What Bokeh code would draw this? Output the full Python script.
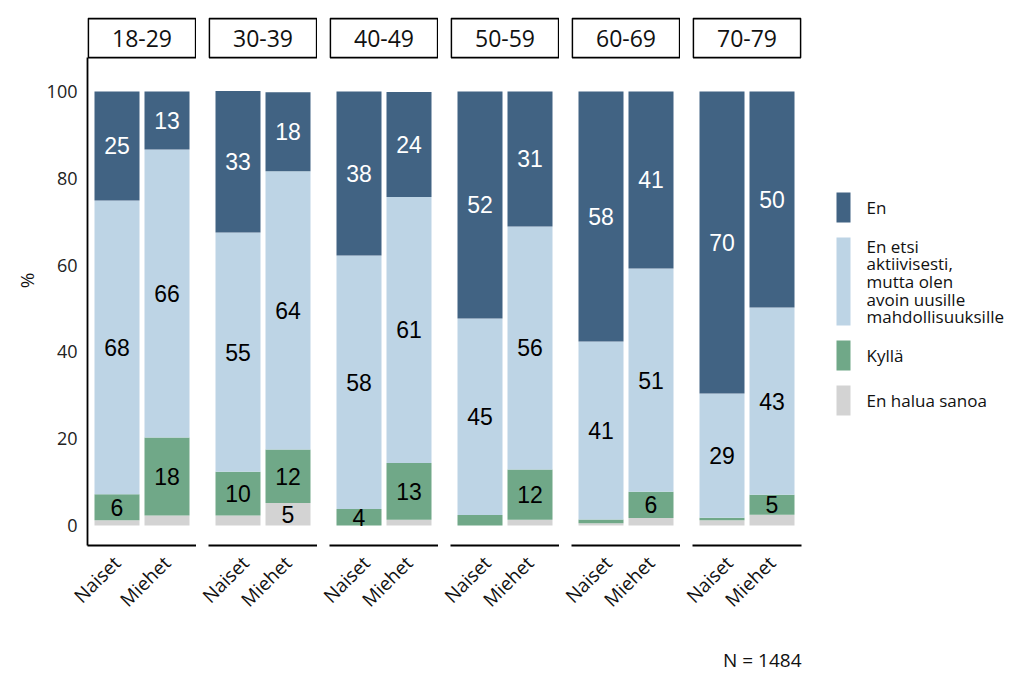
import math
from bokeh.plotting import figure
from bokeh.models import (Range1d, FactorRange, BoxAnnotation, Label, Title,
                          ColumnDataSource, FixedTicker)
from bokeh.layouts import row
from bokeh.embed import file_html
from bokeh.resources import INLINE
from bokeh.core.properties import value

# ---------------- data ----------------
ages = ["18-29", "30-39", "40-49", "50-59", "60-69", "70-79"]
genders = ["Naiset", "Miehet"]

# stack order bottom -> top
categories = ["En halua sanoa", "Kyllä",
              "En etsi aktiivisesti, mutta olen avoin uusille mahdollisuuksille",
              "En"]
legend_lines = {
    "En": ["En"],
    "En etsi aktiivisesti, mutta olen avoin uusille mahdollisuuksille":
        ["En etsi", "aktiivisesti,", "mutta olen", "avoin uusille", "mahdollisuuksille"],
    "Kyllä": ["Kyllä"],
    "En halua sanoa": ["En halua sanoa"],
}
colors = ["#d3d3d3", "#70a888", "#bdd4e5", "#416383"]
label_colors = ["black", "black", "black", "white"]

en_halua_naiset = [1.2, 2.3, 0.0, 0.0, 0.5, 1.2]
en_halua_miehet = [2.3, 5.2, 1.3, 1.3, 1.7, 2.5]
kylla_naiset = [6.0, 10.1, 3.8, 2.4, 0.9, 0.6]
kylla_miehet = [18.0, 12.3, 13.1, 11.6, 6.1, 4.6]
en_etsi_naiset = [67.7, 55.1, 58.4, 45.3, 41.0, 28.6]
en_etsi_miehet = [66.3, 64.1, 61.3, 56.0, 51.4, 43.1]
en_naiset = [25.1, 32.6, 37.8, 52.3, 57.6, 69.6]
en_miehet = [13.4, 18.2, 24.2, 31.1, 40.8, 49.8]

caption = "N = 1484"
y_ticks = [0, 20, 40, 60, 80, 100]

series_naiset = [en_halua_naiset, kylla_naiset, en_etsi_naiset, en_naiset]
series_miehet = [en_halua_miehet, kylla_miehet, en_etsi_miehet, en_miehet]

# ---------------- style ----------------
TXT_FONT = "Open Sans"
NUM_FONT = "Liberation Sans"
Y_START, Y_END = -4.61, 117.5
STRIP_BOTTOM, STRIP_TOP = 107.8, 116.8
BORDER_TOP = 15
FRAME_H = 530
BORDER_BOTTOM = 138

keys = [f"s{i}" for i in range(len(categories))]
figs = []
for i, age in enumerate(ages):
    p = figure(x_range=FactorRange(*genders, range_padding=0.09),
               y_range=Range1d(Y_START, Y_END),
               frame_width=109, frame_height=FRAME_H,
               min_border_top=BORDER_TOP, min_border_bottom=BORDER_BOTTOM,
               min_border_left=87 if i == 0 else 12,
               min_border_right=20 if i == len(ages) - 1 else 0,
               output_backend="svg", toolbar_location=None)
    data = {"g": genders}
    for k, sn, sm in zip(keys, series_naiset, series_miehet):
        data[k] = [sn[i], sm[i]]
    src = ColumnDataSource(data)
    p.vbar_stack(keys, x="g", width=0.9, color=colors, line_width=0, source=src)

    # value labels
    lx, ly, lt, lc = [], [], [], []
    for gi, g in enumerate(genders):
        bottom = 0.0
        for ci, k in enumerate(keys):
            v = data[k][gi]
            if v >= 3:
                lx.append(g)
                ly.append(bottom + v / 2)
                lt.append(f"{v:.0f}")
                lc.append(label_colors[ci])
            bottom += v
    lsrc = ColumnDataSource(dict(x=lx, y=ly, t=lt, c=lc))
    p.text(x="x", y="y", text="t", text_color="c", source=lsrc,
           text_align="center", text_baseline="middle",
           text_font=value(NUM_FONT), text_font_size="23px")

    # strip header
    p.add_layout(BoxAnnotation(left=-0.075, right=2.075, bottom=STRIP_BOTTOM, top=STRIP_TOP,
                               fill_alpha=0, line_color="black", line_alpha=1.0,
                               line_width=1.8))
    p.add_layout(Label(x=1.0, y=(STRIP_BOTTOM + STRIP_TOP) / 2, text=age,
                       text_align="center", text_baseline="middle",
                       text_font=TXT_FONT, text_font_size="23px", text_color="#111111"))

    p.xgrid.visible = False
    p.ygrid.visible = False
    p.outline_line_color = None

    p.xaxis.major_label_orientation = math.pi / 4
    p.xaxis.major_tick_line_color = None
    p.xaxis.minor_tick_line_color = None
    p.xaxis.major_tick_out = 0
    p.xaxis.axis_line_width = 1.8
    p.xaxis.axis_line_color = "black"
    p.xaxis.major_label_text_font = TXT_FONT
    p.xaxis.major_label_text_font_size = "19px"
    p.xaxis.major_label_text_color = "#111111"
    p.xaxis.major_label_standoff = 14

    if i == 0:
        p.yaxis.ticker = FixedTicker(ticks=y_ticks)
        p.yaxis.bounds = (Y_START, STRIP_BOTTOM)
        p.yaxis.major_tick_line_color = None
        p.yaxis.minor_tick_line_color = None
        p.yaxis.major_tick_out = 0
        p.yaxis.axis_line_width = 1.8
        p.yaxis.axis_line_color = "black"
        p.yaxis.major_label_standoff = 10
        p.yaxis.major_label_text_font = TXT_FONT
        p.yaxis.major_label_text_font_size = "18px"
        p.yaxis.major_label_text_color = "#222222"
        p.yaxis.axis_label = "%"
        p.yaxis.axis_label_text_font = TXT_FONT
        p.yaxis.axis_label_text_font_style = "normal"
        p.yaxis.axis_label_text_font_size = "19px"
        p.yaxis.axis_label_text_color = "#111111"
        p.yaxis.axis_label_standoff = 4
    else:
        p.yaxis.visible = False

    if i == len(ages) - 1:
        p.add_layout(Title(text=caption, align="right", text_font=TXT_FONT,
                           text_font_size="19px", text_font_style="normal",
                           text_color="#111111", standoff=41), "below")
    figs.append(p)

# ---------------- legend (separate panel, same frame geometry) ----------------
LEG_W = 195
lg = figure(frame_width=LEG_W, frame_height=FRAME_H,
            min_border_top=BORDER_TOP, min_border_bottom=BORDER_BOTTOM,
            min_border_left=0, min_border_right=0,
            x_range=Range1d(0, LEG_W), y_range=Range1d(FRAME_H, 0),
            x_axis_location=None, y_axis_location=None,
            output_backend="svg", toolbar_location=None)
lg.xgrid.visible = False
lg.ygrid.visible = False
lg.outline_line_color = None

line_h = 17.6
y = 177.0
ql, qr, qt, qb, qc = [], [], [], [], []
tx, ty, tt = [], [], []
for cat, col in zip(reversed(categories), reversed(colors)):
    lines = legend_lines[cat]
    h = max(30.0, len(lines) * line_h)
    ql.append(15); qr.append(29); qt.append(y); qb.append(y + h); qc.append(col)
    if len(lines) == 1:
        tx.append(45); ty.append(y + h / 2); tt.append(lines[0])
    else:
        for li, t in enumerate(lines):
            tx.append(45); ty.append(y + line_h * (li + 0.5)); tt.append(t)
    y += h + 15
lg.quad(left=ql, right=qr, top=qt, bottom=qb, color=qc, line_width=0)
lg.text(x=tx, y=ty, text=tt, text_align="left", text_baseline="middle",
        text_font=value(TXT_FONT), text_font_size="17px", text_color="#111111")

layout = row(*figs, lg)
open("out.html", "w").write(file_html(layout, INLINE))
